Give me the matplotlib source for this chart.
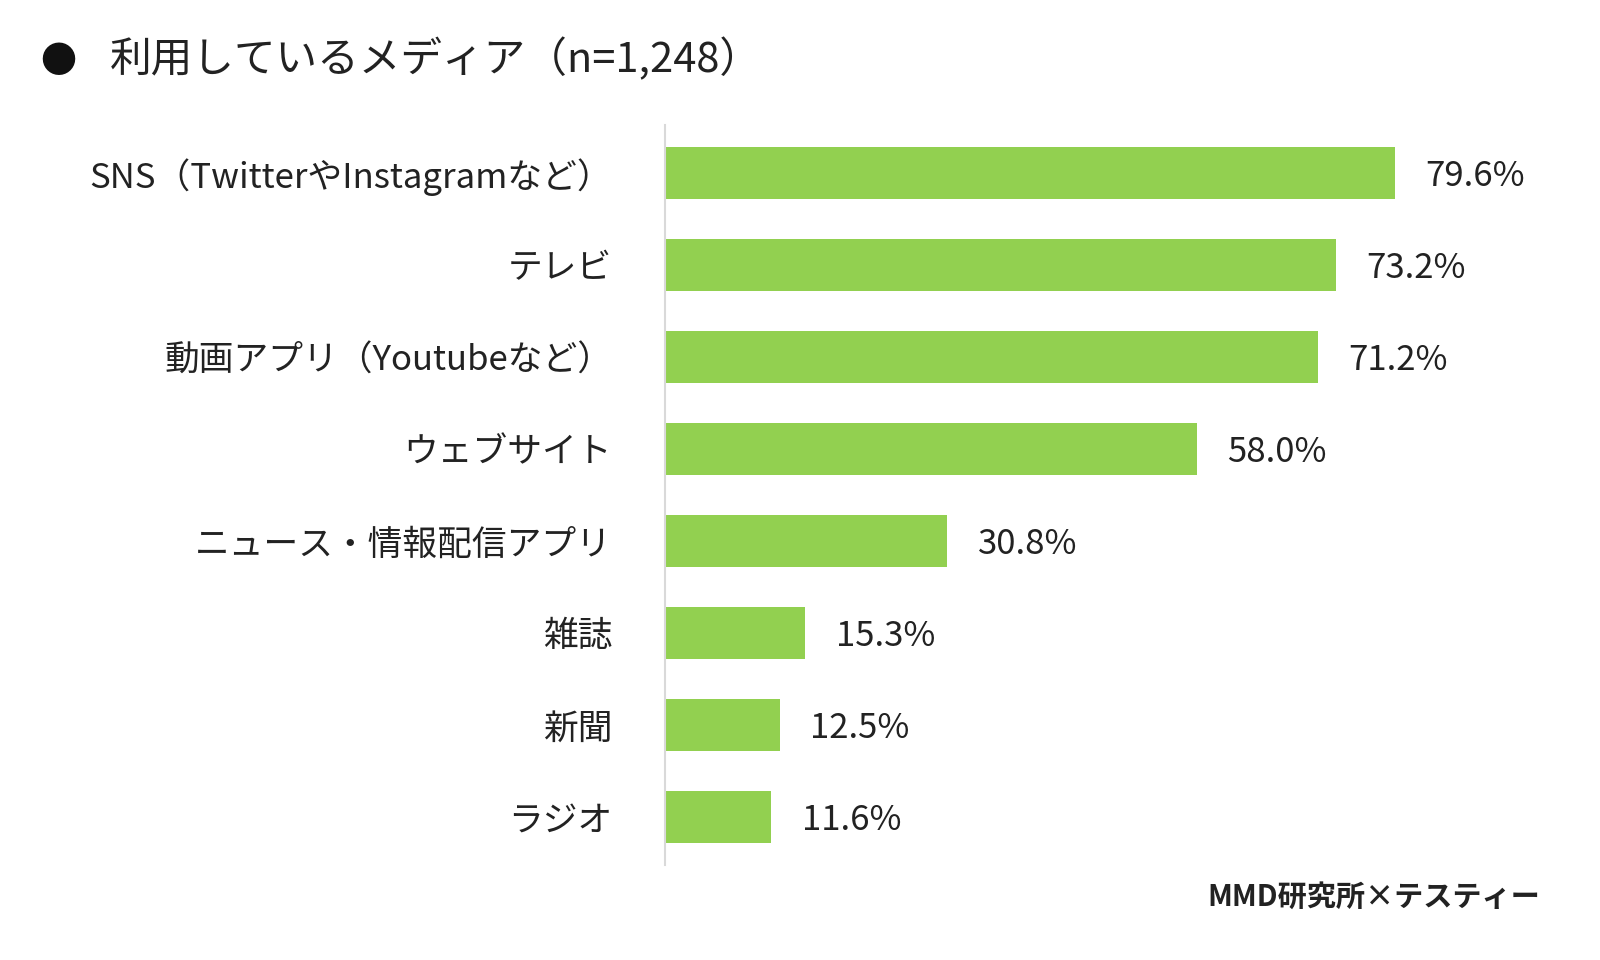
import matplotlib
matplotlib.use("Agg")
import matplotlib.pyplot as plt

plt.rcParams["font.family"] = "Noto Sans CJK JP"

categories = ["SNS（TwitterやInstagramなど）", "テレビ", "動画アプリ（Youtubeなど）",
              "ウェブサイト", "ニュース・情報配信アプリ", "雑誌", "新聞", "ラジオ"]
values = [79.6, 73.2, 71.2, 58.0, 30.8, 15.3, 12.5, 11.6]

fig = plt.figure(figsize=(16, 9.6), dpi=100)
ax = fig.add_axes([665 / 1600, 0.099, 917 / 1600, 0.771])

y = range(len(categories))
ax.barh(y, values, height=0.565, color="#92D050")
for yi, v in zip(y, values):
    ax.text(v + 3.3, yi + 0.04, f"{v:.1f}%", va="center", ha="left", fontsize=25, color="#222222")

ax.set_xlim(0, 100)
ax.set_ylim(len(categories) - 0.48, -0.52)
ax.set_yticks(list(y))
ax.set_yticklabels(categories, fontsize=25, color="#222222")
ax.tick_params(axis="y", length=0, pad=38)
ax.set_xticks([])
for s in ["top", "right", "bottom"]:
    ax.spines[s].set_visible(False)
ax.spines["left"].set_color("#d9d9d9")
ax.spines["left"].set_linewidth(1.5)

fig.text(40 / 1600, 1 - 62 / 960, "●", fontsize=26, va="center", ha="left", color="#111111")
fig.text(110 / 1600, 1 - 60 / 960, "利用しているメディア（n=1,248）", fontsize=30,
         va="center", ha="left", color="#222222")
fig.text(1540 / 1600, 1 - 897 / 960, "MMD研究所×テスティー", fontsize=21,
         fontweight="bold", va="center", ha="right", color="#222222")

fig.savefig("out.png")
